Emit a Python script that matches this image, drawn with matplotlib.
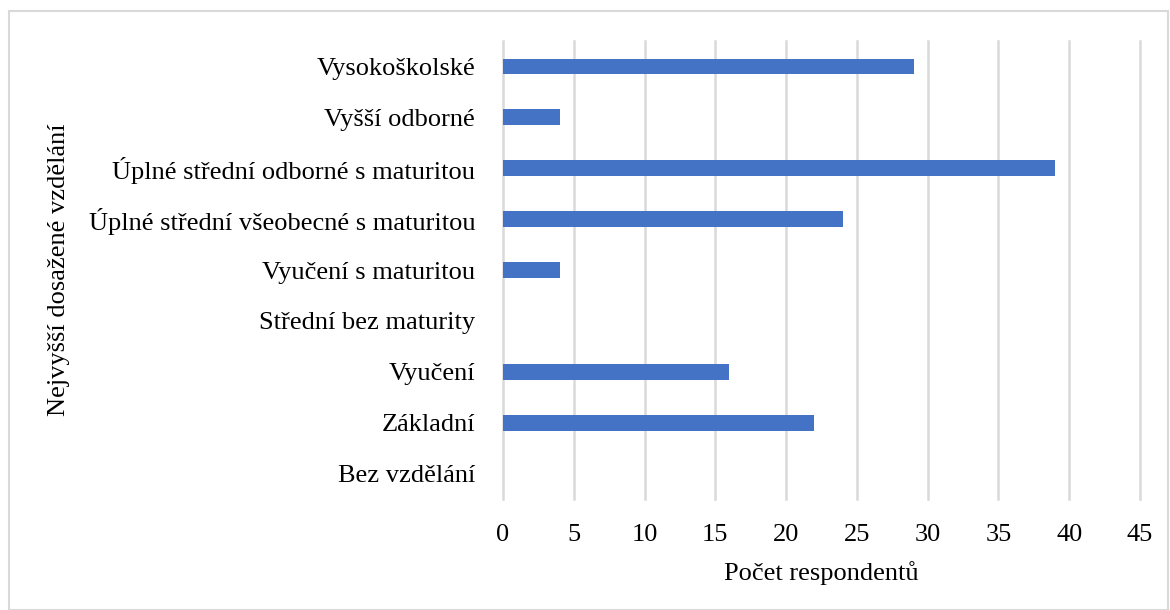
import matplotlib
matplotlib.use("Agg")
import matplotlib.pyplot as plt
from matplotlib.patches import Rectangle

categories = ["Vysokoškolské", "Vyšší odborné", "Úplné střední odborné s maturitou",
              "Úplné střední všeobecné s maturitou", "Vyučení s maturitou",
              "Střední bez maturity", "Vyučení", "Základní", "Bez vzdělání"]
values = [29, 4, 39, 24, 4, 0, 16, 22, 0]
xticks = [0, 5, 10, 15, 20, 25, 30, 35, 40, 45]

plt.rcParams['font.family'] = ['Liberation Serif', 'DejaVu Serif']

W, H = 1170, 610
fig = plt.figure(figsize=(W/100, H/100), dpi=100)
ax = fig.add_axes([503/W, 1-499/H, (1140-503)/W, (499-41)/H])

ypos = list(range(len(categories)))[::-1]
ax.barh(ypos, values, height=0.31, color="#4472C4", zorder=3)
ax.set_ylim(-0.5, len(categories)-0.5)
ax.set_xlim(0, 45)
ax.set_xticks(xticks)
ax.set_yticks(ypos)
ax.set_yticklabels(categories, fontsize=19)
ax.tick_params(axis='y', length=0, pad=20)
ax.tick_params(axis='x', length=0, pad=18, labelsize=19)
ax.grid(axis='x', color="#d9d9d9", linewidth=1.8, zorder=0)
for gl in ax.get_xgridlines():
    gl.set_clip_on(False)
for s in ax.spines.values():
    s.set_visible(False)
ax.set_xlabel("Počet respondentů", fontsize=19, labelpad=11)
ax.set_ylabel("Nejvyšší dosažené vzdělání", fontsize=19, labelpad=0)
ax.yaxis.set_label_coords((70-503)/(1140-503), 0.5)

fig.patches.append(Rectangle((9/W, 0.5/H), (1168-9)/W, (H-11-0.5)/H, transform=fig.transFigure,
                             fill=False, edgecolor="#d9d9d9", linewidth=1.5))

fig.savefig("out.png", dpi=100)
